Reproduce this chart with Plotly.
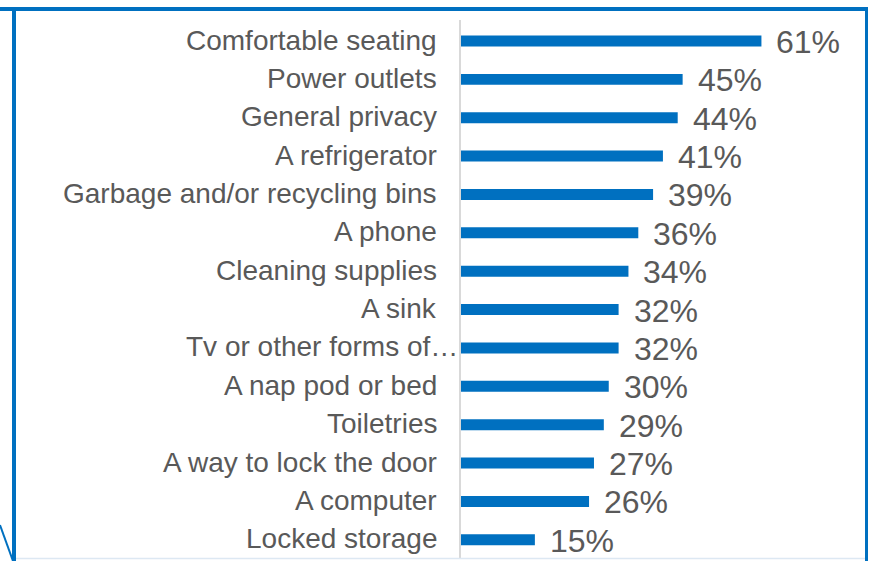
import plotly.graph_objects as go

# Survey results: desired amenities
categories = [
    "Comfortable seating",
    "Power outlets",
    "General privacy",
    "A refrigerator",
    "Garbage and/or recycling bins",
    "A phone",
    "Cleaning supplies",
    "A sink",
    "Tv or other forms of\u2026",
    "A nap pod or bed",
    "Toiletries",
    "A way to lock the door",
    "A computer",
    "Locked storage",
]
values = [61, 45, 44, 41, 39, 36, 34, 32, 32, 30, 29, 27, 26, 15]
value_labels = [f"{v}%" for v in values]

W, H = 871, 561
ML, MR, MT, MB = 461, 16, 20, 2
BLUE = "#0070C0"
GREY_TEXT = "#595959"
FONT = "Liberation Sans, Arial, sans-serif"

fig = go.Figure(
    go.Bar(
        x=values,
        y=categories,
        orientation="h",
        marker=dict(color=BLUE, line=dict(width=0)),
        hoverinfo="skip",
    )
)

# category labels left of the axis; the truncated one runs up to the axis line
for cat in categories:
    gap = -1 if cat.endswith("\u2026") else -22
    fig.add_annotation(
        x=0, xref="paper", y=cat, text=cat, showarrow=False,
        xanchor="right", yanchor="middle", xshift=gap, yshift=1,
        font=dict(family=FONT, size=28, color=GREY_TEXT),
    )

# value labels to the right of each bar
for cat, v, lab in zip(categories, values, value_labels):
    fig.add_annotation(
        x=v, y=cat, text=lab, showarrow=False,
        xanchor="left", yanchor="middle", xshift=13, yshift=-1,
        font=dict(family=FONT, size=32, color=GREY_TEXT),
    )

pw = W - ML - MR
ph = H - MT - MB


def px(x):
    return (x - ML) / pw


def py(y):
    return 1 - (y - MT) / ph


frame = [
    # top edge
    dict(x0=px(0), x1=px(868), y0=py(9), y1=py(9), w=4, c=BLUE),
    # right edge
    dict(x0=px(866.5), x1=px(866.5), y0=py(8), y1=py(561), w=3, c=BLUE),
    # left edge
    dict(x0=px(14), x1=px(14), y0=py(8), y1=py(561), w=4, c=BLUE),
    # corner stroke at lower left
    dict(x0=px(0), x1=px(13), y0=py(525), y1=py(561), w=2, c=BLUE),
    # faint bottom rule
    dict(x0=px(16), x1=px(865), y0=py(558.5), y1=py(558.5), w=1.5, c="#dde8f3"),
]
for s in frame:
    fig.add_shape(
        type="line", xref="paper", yref="paper",
        x0=s["x0"], x1=s["x1"], y0=s["y0"], y1=s["y1"],
        line=dict(color=s["c"], width=s["w"]), layer="above",
    )

fig.update_layout(
    width=W, height=H,
    margin=dict(l=ML, r=MR, t=MT, b=MB),
    paper_bgcolor="white", plot_bgcolor="white",
    bargap=0.714,
    showlegend=False,
    font=dict(family=FONT, color=GREY_TEXT),
    xaxis=dict(
        range=[0, 80], showticklabels=False, showgrid=False,
        zeroline=False, showline=False, fixedrange=True,
    ),
    yaxis=dict(
        autorange="reversed", showgrid=False, zeroline=False,
        showline=True, linecolor="#d9d9d9", linewidth=2,
        ticks="", showticklabels=False,
        fixedrange=True,
    ),
)

fig.write_html("out.html")
